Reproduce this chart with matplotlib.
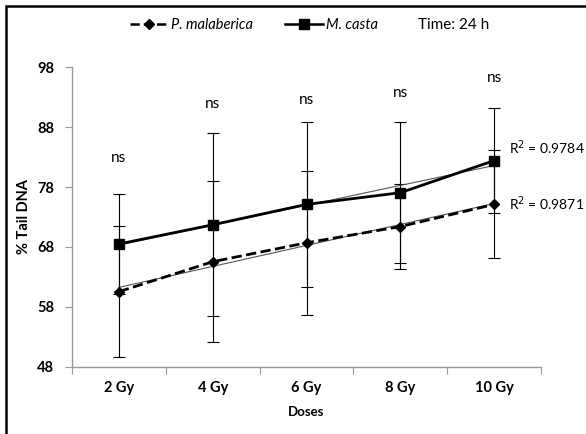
import matplotlib
matplotlib.use('Agg')
import matplotlib.pyplot as plt
import numpy as np
from matplotlib.lines import Line2D
from matplotlib.patches import Rectangle

plt.rcParams['font.family'] = ['Lato', 'DejaVu Sans']

doses = ['2 Gy', '4 Gy', '6 Gy', '8 Gy', '10 Gy']
casta = [68.5, 71.7, 75.1, 77.05, 82.4]
casta_err = [8.3, 15.25, 13.8, 11.75, 8.8]
malab = [60.55, 65.55, 68.7, 71.4, 75.1]
malab_err = [10.9, 13.4, 12.0, 7.1, 9.0]
ns_y = [82.8, 91.8, 92.5, 93.7, 96.2]
r2_casta = 'R$^2$ = 0.9784'
r2_malab = 'R$^2$ = 0.9871'

x = np.arange(len(doses))

fig = plt.figure(figsize=(5.86, 4.34), dpi=100)
ax = fig.add_axes([0.1229, 0.1544, 0.8003, 0.6912])

# error bars (thin)
ax.errorbar(x, casta, yerr=casta_err, fmt='none', ecolor='black', elinewidth=0.8,
            capsize=4, capthick=0.8, zorder=2)
ax.errorbar(x, malab, yerr=malab_err, fmt='none', ecolor='black', elinewidth=0.8,
            capsize=4, capthick=0.8, zorder=2)

# linear trendlines
for vals in (casta, malab):
    fit_fn = np.poly1d(np.polyfit(x, vals, 1))
    ax.plot(x, fit_fn(x), color='#555555', lw=0.8, zorder=3)

ax.plot(x, malab, 'k--', marker='D', markersize=5.5, lw=2, zorder=4)
ax.plot(x, casta, 'k-', marker='s', markersize=7.5, lw=2, zorder=5)

for xi, yi in zip(x, ns_y):
    ax.text(xi, yi, 'ns', ha='center', va='center', fontsize=11)

ax.text(4.16, 84.5, r2_casta, ha='left', va='center', fontsize=10, clip_on=False)
ax.text(4.16, 75.2, r2_malab, ha='left', va='center', fontsize=10, clip_on=False)

ax.set_xlim(-0.5, 4.5)
ax.set_ylim(48, 98)
ax.set_yticks([48, 58, 68, 78, 88, 98])
ax.set_xticks(np.arange(-0.5, 5, 1))
ax.set_xticklabels([])
ax.set_xticks(x, minor=True)
ax.set_xticklabels(doses, minor=True)
ax.tick_params(axis='x', which='minor', length=0, pad=10)
ax.tick_params(axis='x', which='major', length=5, color='#999999', direction='out')
ax.tick_params(axis='y', length=5, color='#999999', direction='out', pad=8)
for lab in ax.get_xticklabels(minor=True) + ax.get_yticklabels():
    lab.set_fontweight('bold')
    lab.set_fontsize(10.5)

for s in ('top', 'right'):
    ax.spines[s].set_visible(False)
for s in ('left', 'bottom'):
    ax.spines[s].set_color('#999999')
    ax.spines[s].set_linewidth(1)

ax.set_ylabel('% Tail DNA', fontweight='bold', fontsize=10.5, labelpad=4)
ax.set_xlabel('Doses', fontweight='bold', fontsize=9.5, labelpad=8)

# legend
h1 = Line2D([], [], color='k', ls='--', marker='D', markersize=5, lw=1.8)
h2 = Line2D([], [], color='k', ls='-', marker='s', markersize=7, lw=1.8)
leg = fig.legend([h1, h2], ['P. malaberica', 'M. casta'], loc='center',
                 bbox_to_anchor=(0.433, 0.942), ncol=2, frameon=False,
                 fontsize=10.5, handlelength=2.6, handletextpad=0.2, columnspacing=2.2)
for t in leg.get_texts():
    t.set_fontstyle('italic')
fig.text(0.713, 0.942, 'Time: 24 h', ha='left', va='center', fontsize=11)

# outer frame
fig.patches.append(Rectangle((0.011, -0.2), 1.5, 1.186, transform=fig.transFigure,
                             fill=False, edgecolor='black', lw=1.8))

fig.savefig('out.png', dpi=100)
